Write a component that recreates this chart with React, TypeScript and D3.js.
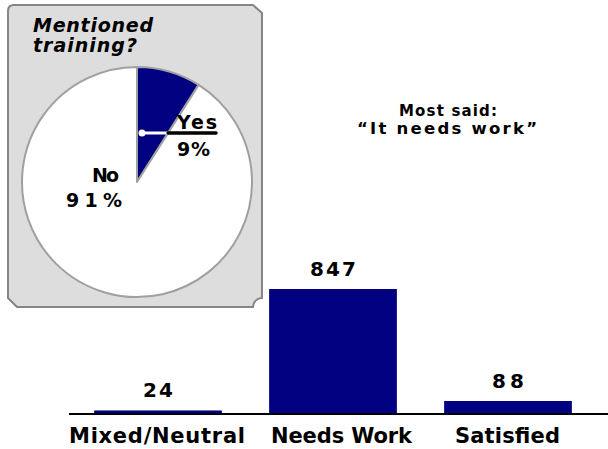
import React from "react";
import * as d3 from "d3";

const categories = ["Mixed/Neutral", "Needs Work", "Satisfied"];
const counts = [24, 847, 88];
const pieLabels = ["Yes", "No"];
const pieValues = [9, 91];
const pieText = ["9%", "91%"];
const titleLines = ["Mentioned", "training?"];
const noteLines = ["Most said:", "\u201CIt needs work\u201D"];

const W = 608;
const H = 449;
const NAVY = "#000080";
const FONT = "'DejaVu Sans', Verdana, sans-serif";

export default function App() {
  // bar chart scales
  const x = d3
    .scaleBand<string>()
    .domain(categories)
    .range([70.5, 595.5])
    .paddingInner(0.27)
    .paddingOuter(0.135);
  const y = d3.scaleLinear().domain([0, 847]).range([414, 289]);

  // pie
  const cx = 137, cy = 182, r = 115;
  const pie = d3.pie<number>().sort(null).value((d) => d);
  const arcs = pie(pieValues);
  const arcGen = d3.arc<d3.PieArcDatum<number>>().innerRadius(0).outerRadius(r);
  const yesEnd = arcs[0].endAngle;
  const leaderY = 133;
  const crossX = cx + (cy - leaderY) * Math.tan(yesEnd);

  const labelX = [157, 341.5, 507.5];
  const labelW = [176, 141, 105];
  const valueW = [30, 46, 32];

  const boxPath =
    "M14,5 L253,5 L262,13 L262,298 A9,9 0 0 0 253,307 L17,307 L8,298 L8,11 Q8,5 14,5 Z";

  return (
    <svg width={W} height={H} style={{ position: "absolute", left: 0, top: 0 }} fontFamily={FONT}>
      <rect x={0} y={0} width={W} height={H} fill="#ffffff" />
      {/* inset box */}
      <path d={boxPath} fill="#dddddd" stroke="#858585" strokeWidth={2} />
      <g fontWeight="bold" fontStyle="italic" fontSize={19} fill="#000">
        <text x={33} y={32} textLength={120} lengthAdjust="spacing">{titleLines[0]}</text>
        <text x={33} y={52} textLength={104} lengthAdjust="spacing">{titleLines[1]}</text>
      </g>
      <g transform={`translate(${cx},${cy})`}>
        {arcs.map((a, i) => (
          <path key={i} d={arcGen(a) || ""} fill={i === 0 ? NAVY : "#ffffff"} stroke="#a0a0a0" strokeWidth={2} strokeLinejoin="round" />
        ))}
      </g>
      {/* Yes leader */}
      <line x1={142} y1={leaderY} x2={crossX} y2={leaderY} stroke="#ffffff" strokeWidth={3} />
      <circle cx={142} cy={leaderY} r={3.5} fill="#ffffff" />
      <line x1={crossX} y1={leaderY} x2={216} y2={leaderY} stroke="#000" strokeWidth={3.5} strokeLinecap="round" />
      <g fontWeight="bold" fontSize={19} fill="#000" textAnchor="middle">
        <text x={197} y={129} textLength={40} lengthAdjust="spacing">{pieLabels[0]}</text>
        <text x={193.5} y={156} textLength={33} lengthAdjust="spacing">{pieText[0]}</text>
        <text x={105.5} y={182} textLength={27} lengthAdjust="spacing">{pieLabels[1]}</text>
        <text x={94} y={207} textLength={56} lengthAdjust="spacing">{pieText[1]}</text>
      </g>
      {/* note */}
      <g fontWeight="bold" fill="#000" textAnchor="middle">
        <text x={448} y={116} fontSize={15} textLength={98} lengthAdjust="spacing">{noteLines[0]}</text>
        <text x={447} y={134} fontSize={16.5} textLength={180} lengthAdjust="spacing">{noteLines[1]}</text>
      </g>
      {/* bars */}
      {categories.map((c, i) => (
        <rect key={c} x={x(c)} y={y(counts[i])} width={x.bandwidth()} height={y(0) - y(counts[i])} fill={NAVY} />
      ))}
      <line x1={69} y1={y(0)} x2={W} y2={y(0)} stroke="#000" strokeWidth={2} />
      <g fontWeight="bold" fontSize={20} fill="#000" textAnchor="middle">
        {categories.map((c, i) => (
          <text key={c} x={(x(c) || 0) + x.bandwidth() / 2} y={y(counts[i]) - 13} textLength={valueW[i]} lengthAdjust="spacing">
            {counts[i]}
          </text>
        ))}
      </g>
      <g fontWeight="bold" fontSize={21} fill="#000" textAnchor="middle">
        {categories.map((c, i) => (
          <text key={c} x={labelX[i]} y={443} textLength={labelW[i]} lengthAdjust="spacing">
            {c}
          </text>
        ))}
      </g>
    </svg>
  );
}
